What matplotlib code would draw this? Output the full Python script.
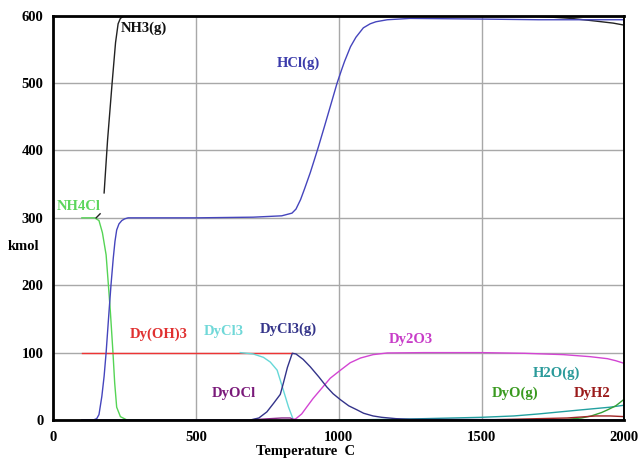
import numpy as np
import matplotlib
matplotlib.use("Agg")
import matplotlib.pyplot as plt

plt.rcParams["font.family"] = ["Liberation Serif", "DejaVu Serif"]
plt.rcParams["font.weight"] = "bold"

nan = np.nan

# equilibrium amounts (kmol), per species
nh3_t = [150, 164, nan, 178, 190, 206, 218, 227, 235, 245, 300, 1600, 1700, 1814, 1900, 1961, 2000]
nh3 = [300, 306, nan, 337, 415, 500, 560, 588, 596, 599, 600, 600, 599, 596, 592, 589, 586]

hcl_t = [100, 140, 152, 160, 170, 178, 185, 195, 202, 210, 216, 222, 230, 240, 250, 262, 300,
         500, 700, 800, 836, 850, 866, 880, 900, 915, 929, 950, 970, 994, 1010, 1020, 1041,
         1060, 1086, 1110, 1130, 1170, 1250, 1500, 1700, 2000]
hcl = [0, 0, 2, 8, 35, 65, 100, 160, 200, 240, 265, 282, 291, 296, 298.5, 300, 300,
       300, 301, 303, 307, 313, 327, 343, 367, 387, 406, 436, 465, 500, 520, 532, 554,
       568, 582, 588, 591, 594, 596, 595, 594, 594]

nh4cl_t = [100, 145, 160, 172, 185, 193, 200, 209, 215, 222, 235, 258, 300]
nh4cl = [300, 300, 296, 278, 245, 200, 160, 100, 55, 19, 5, 0, 0]

dyoh3_t = [100, 836]
dyoh3 = [100, 100]

dycl3_t = [655, 700, 736, 760, 784, 806, 824, 841]
dycl3 = [100, 98, 93, 86, 74, 44, 19, 0]

dycl3g_t = [100, 690, 720, 748, 772, 795, 806, 820, 837, 850, 875, 900, 930, 958, 980, 1006,
            1035, 1064, 1087, 1120, 1150, 1200, 1250, 2000]
dycl3g = [0, 0, 3, 12, 25, 38, 55, 78, 99, 98, 90, 79, 64, 49, 39, 30,
          21, 15, 10, 6, 4, 2, 1, 0]

dyocl_t = [700, 760, 800, 830, 845]
dyocl = [0.5, 2, 3, 3, 0]

dy2o3_t = [835, 850, 870, 889, 910, 936, 970, 1006, 1040, 1076, 1120, 1170, 1300, 1500, 1650,
           1787, 1880, 1941, 1970, 2000]
dy2o3 = [0, 2, 9, 20, 32, 45, 62, 74, 85, 92, 97, 99.5, 100, 100, 99,
         97, 94, 91, 88, 84]

h2o_t = [1000, 1100, 1200, 1300, 1400, 1500, 1613, 1700, 1848, 1950, 2000]
h2o = [0, 0.5, 1, 2, 3, 4, 6, 9, 15, 19, 22]

dyo_t = [1700, 1800, 1850, 1884, 1920, 1941, 1970, 1988, 2000]
dyo = [0, 1, 3, 6, 11, 15, 21, 27, 31]

dyh2_t = [1500, 1600, 1700, 1800, 1900, 1950, 2000]
dyh2 = [0, 1, 2, 3, 6, 6, 5]

fig = plt.figure(figsize=(6.4, 4.59), dpi=100)
ax = fig.add_axes([53.3 / 640, 39 / 459, 571 / 640, 404.3 / 459])

series = [
    (nh4cl_t, nh4cl, "#55d455"),
    (nh3_t, nh3, "#222222"),
    (dyoh3_t, dyoh3, "#ee3535"),
    (dycl3_t, dycl3, "#66d8d8"),
    (dyocl_t, dyocl, "#8a2a8a"),
    (dy2o3_t, dy2o3, "#d345d3"),
    (h2o_t, h2o, "#22a0a0"),
    (dyo_t, dyo, "#35a035"),
    (dyh2_t, dyh2, "#a02525"),
    (dycl3g_t, dycl3g, "#33338a"),
    (hcl_t, hcl, "#4545bd"),
]
for t, v, c in series:
    ax.plot(t, v, color=c, lw=1.0, zorder=3)

# species labels (pixel positions in the 640x459 figure)
labels = [
    (121, 28, "NH3(g)", "#111111"),
    (277, 63, "HCl(g)", "#3b3bab"),
    (57, 207, "NH4Cl", "#5cd65c"),
    (130, 334, "Dy(OH)3", "#e03030"),
    (204, 332, "DyCl3", "#70d8d8"),
    (260, 329, "DyCl3(g)", "#35358a"),
    (212, 394, "DyOCl", "#7a1a7a"),
    (389, 340, "Dy2O3", "#c83cc8"),
    (533, 373, "H2O(g)", "#2a9a9a"),
    (492, 393, "DyO(g)", "#3a9a20"),
    (574, 394, "DyH2", "#9a1a1a"),
]
for px, py, txt, c in labels:
    fig.text(px / 640, 1 - py / 459, txt, color=c, fontsize=10.5,
             fontweight="bold", ha="left", va="center")

ax.set_xlim(0, 2000)
ax.set_ylim(0, 600)
ax.set_xticks([0, 500, 1000, 1500, 2000])
ax.set_yticks([0, 100, 200, 300, 400, 500, 600])
ax.tick_params(length=0, labelsize=10.5, pad=7)
ax.tick_params(axis="x", pad=8)
ax.grid(color="#a8a8a8", lw=1.0, zorder=1)
ax.set_axisbelow(True)

for side in ["left", "top", "bottom"]:
    ax.spines[side].set_linewidth(2.0)
ax.spines["right"].set_linewidth(1.4)
for s in ax.spines.values():
    s.set_zorder(5)

fig.text(8 / 640, 1 - 246 / 459, "kmol", fontsize=10.5, fontweight="bold",
         ha="left", va="center")
fig.text(256 / 640, 1 - 452 / 459, "Temperature  C", fontsize=10.5,
         fontweight="bold", ha="left", va="center")

fig.savefig("out.png", dpi=100)
